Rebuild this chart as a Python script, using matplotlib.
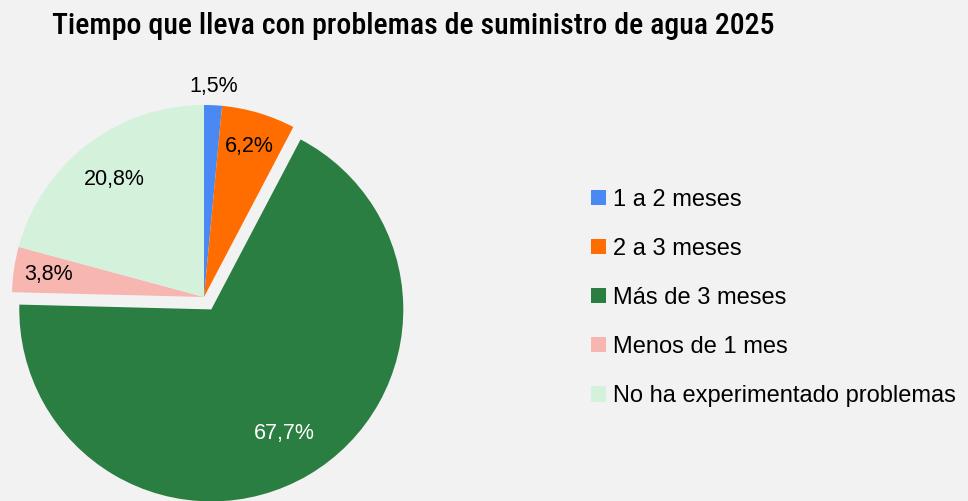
import numpy as np
import matplotlib.pyplot as plt
from matplotlib.patches import Patch

categorias = ['1 a 2 meses', '2 a 3 meses', 'Más de 3 meses', 'Menos de 1 mes', 'No ha experimentado problemas']
valores = [1.5, 6.2, 67.7, 3.8, 20.8]
colores = ['#4a89f3', '#ff6d01', '#2a7e41', '#f7b6b0', '#d4f1dc']
titulo = 'Tiempo que lleva con problemas de suministro de agua 2025'

# estilo / posiciones
separar = [0, 0, 0.075, 0, 0]
dist_etiqueta = [1.1, 0.82, 0.75, 0.82, 0.77]
color_texto = ['black', 'black', 'white', 'black', 'black']

W, H = 968, 501
cx, cy, R = 204, 297, 192   # centro del pie en pixeles (y desde arriba)

fig = plt.figure(figsize=(W / 100, H / 100), dpi=100)
fig.patch.set_facecolor('#f2f2f2')
ax = fig.add_axes([0, 0, 1, 1])
ax.set_facecolor('#f2f2f2')

wedges, _ = ax.pie(valores, colors=colores, startangle=90, counterclock=False,
                   explode=separar, radius=1, center=(0, 0),
                   wedgeprops=dict(linewidth=0))
ax.set_xlim(-cx / R, (W - cx) / R)
ax.set_ylim(-(H - cy) / R, cy / R)
ax.set_aspect('equal')
ax.axis('off')

fuente = ['Liberation Sans', 'DejaVu Sans']
for w, v, d, c in zip(wedges, valores, dist_etiqueta, color_texto):
    ang = np.deg2rad((w.theta1 + w.theta2) / 2)
    ox, oy = w.center
    ax.text(ox + d * np.cos(ang), oy + d * np.sin(ang), f'{v:.1f}%'.replace('.', ','),
            ha='center', va='center', fontsize=15.5, color=c, family=fuente)

fig.text(52 / W, 1 - 26 / H, titulo, ha='left', va='center', fontsize=21.5,
         fontweight=500,
         family=['Roboto Condensed', 'Archivo Narrow', 'Liberation Sans Narrow', 'DejaVu Sans'])

handles = [Patch(facecolor=c, edgecolor='none') for c in colores]
fig.legend(handles, categorias, loc='center left', bbox_to_anchor=(591 / W, 1 - 298 / H),
           frameon=False, handlelength=0.62, handleheight=0.62, borderpad=0,
           borderaxespad=0, handletextpad=0.3, labelspacing=1.15,
           prop=dict(family=fuente, size=17))

fig.savefig('out.png', dpi=100, facecolor=fig.get_facecolor())
